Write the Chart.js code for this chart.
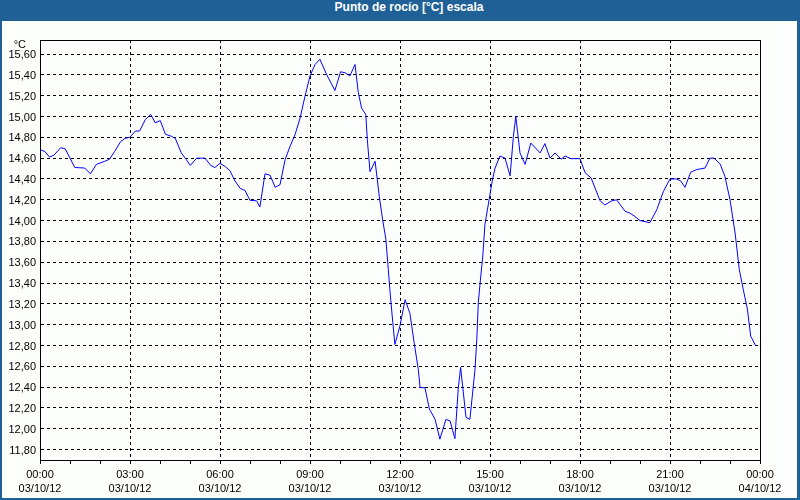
<!DOCTYPE html>
<html>
<head>
<meta charset="utf-8">
<script src="https://cdn.jsdelivr.net/npm/chart.js@4"></script>
<style>
  html, body { margin: 0; padding: 0; background: #fff; }
  #frame { position: relative; width: 800px; height: 500px; background: #1f6197; overflow: hidden; }
  #title { position: absolute; left: 0; top: 0; width: 800px; height: 21px; line-height: 20px;
           box-sizing: border-box; padding-left: 18px; text-align: center; color: #fff;
           font: bold 12px "Liberation Sans", Arial, sans-serif; }
  #plotbox { position: absolute; left: 2px; top: 21px; width: 795px; height: 477px; background: #fcfefc; }
</style>
</head>
<body>
<div id="frame">
  <div id="title">Punto de rocío [°C] escala</div>
  <div id="plotbox"><canvas id="c"></canvas></div>
</div>
<script>
// ---- data ----
const chartTitle = 'Punto de rocío [°C] escala';
const unitLabel = '°C';
// time of each sample, hours after 03/10/12 00:00
const hours = [0.00,0.16,0.32,0.47,0.69,0.84,1.16,1.49,1.68,1.88,
  2.16,2.32,2.49,2.69,2.84,2.99,3.18,3.32,3.51,3.69,
  3.84,4.01,4.18,4.38,4.51,4.71,4.88,5.01,5.22,5.50,
  5.69,5.83,6.00,6.17,6.33,6.50,6.67,6.83,7.00,7.22,
  7.33,7.50,7.67,7.84,8.00,8.17,8.33,8.50,8.67,8.83,
  9.00,9.17,9.33,9.56,9.83,10.02,10.17,10.33,10.50,10.61,
  10.72,10.86,10.91,11.00,11.17,11.31,11.42,11.53,11.61,11.67,
  11.76,11.83,12.00,12.17,12.33,12.47,12.61,12.67,12.83,12.98,
  13.17,13.33,13.53,13.67,13.83,13.94,14.02,14.20,14.33,14.50,
  14.56,14.61,14.67,14.76,14.83,14.97,15.08,15.17,15.33,15.50,
  15.67,15.78,15.86,16.00,16.17,16.36,16.67,16.83,17.00,17.17,
  17.37,17.50,17.70,18.00,18.17,18.37,18.67,18.83,19.06,19.22,
  19.50,19.67,19.83,20.00,20.33,20.56,20.78,21.00,21.22,21.36,
  21.50,21.69,21.89,22.17,22.33,22.47,22.67,22.83,23.00,23.17,
  23.31,23.44,23.58,23.69,23.86];
// dew point, °C
const dewPoint = [14.68,14.665,14.61,14.63,14.70,14.69,14.51,14.505,14.45,14.54,
  14.57,14.59,14.665,14.76,14.79,14.80,14.86,14.86,14.97,15.02,
  14.94,14.96,14.83,14.81,14.79,14.65,14.585,14.53,14.60,14.60,
  14.53,14.51,14.55,14.52,14.48,14.38,14.31,14.29,14.195,14.19,
  14.13,14.45,14.435,14.32,14.345,14.585,14.71,14.825,14.985,15.19,
  15.39,15.50,15.55,15.40,15.25,15.43,15.42,15.39,15.50,15.23,
  15.08,15.02,14.78,14.47,14.57,14.23,14.01,13.82,13.53,13.31,
  13.02,12.81,12.99,13.24,13.11,12.83,12.57,12.395,12.395,12.19,
  12.09,11.90,12.09,12.075,11.905,12.38,12.59,12.11,12.09,12.57,
  12.86,13.21,13.40,13.66,13.96,14.20,14.39,14.505,14.62,14.60,
  14.43,14.81,15.00,14.65,14.54,14.745,14.65,14.74,14.60,14.65,
  14.59,14.62,14.595,14.595,14.46,14.41,14.19,14.15,14.19,14.20,
  14.09,14.07,14.04,14.00,13.98,14.105,14.28,14.40,14.40,14.38,
  14.32,14.465,14.49,14.505,14.60,14.60,14.545,14.425,14.20,13.88,
  13.53,13.34,13.15,12.89,12.795];
// axis ticks
const yTicks = [11.8,12.0,12.2,12.4,12.6,12.8,13.0,13.2,13.4,13.6,13.8,14.0,14.2,14.4,14.6,14.8,15.0,15.2,15.4,15.6];
const yMin = 11.70, yMax = 15.735;
const xMinorTicks = [0,1,2,3,4,5,6,7,8,9,10,11,12,13,14,15,16,17,18,19,20,21,22,23,24];
const xLabelHours = [0,3,6,9,12,15,18,21,24];
const xLabelTimes = ['00:00','03:00','06:00','09:00','12:00','15:00','18:00','21:00','00:00'];
const xLabelDates = ['03/10/12','03/10/12','03/10/12','03/10/12','03/10/12','03/10/12','03/10/12','03/10/12','04/10/12'];

document.getElementById('title').textContent = chartTitle;

const FONT = "'Liberation Sans', Arial, sans-serif";
const DASH = [3, 3];

const frameBox = {
  id: 'frameBox',
  afterDraw(chart) {
    const {ctx, chartArea: a} = chart;
    ctx.save();
    ctx.strokeStyle = '#000';
    ctx.lineWidth = 1;
    ctx.setLineDash([]);
    ctx.strokeRect(Math.round(a.left) + 0.5, Math.round(a.top) + 0.5,
                   Math.round(a.right - a.left), Math.round(a.bottom - a.top));
    ctx.fillStyle = '#000';
    ctx.font = '11px ' + FONT;
    ctx.textAlign = 'right';
    ctx.textBaseline = 'middle';
    ctx.fillText(unitLabel, a.left - 14, a.top + 5);
    ctx.restore();
  }
};

new Chart(document.getElementById('c'), {
  type: 'line',
  data: {
    datasets: [{
      data: hours.map((h, i) => ({x: h, y: dewPoint[i]})),
      borderColor: '#0000ff',
      borderWidth: 1,
      pointRadius: 0,
      tension: 0,
      fill: false
    }]
  },
  options: {
    responsive: true,
    maintainAspectRatio: false,
    animation: false,
    layout: { padding: { top: 19, right: 37, left: 0, bottom: 0 } },
    plugins: { legend: { display: false }, title: { display: false }, tooltip: { enabled: false } },
    scales: {
      x: {
        type: 'linear',
        min: 0, max: 24,
        afterBuildTicks: s => { s.ticks = xMinorTicks.map(v => ({value: v})); },
        afterFit: s => { s.height = 38; },
        grid: {
          color: c => (c.tick && xLabelHours.includes(c.tick.value)) ? '#000' : 'rgba(0,0,0,0)',
          lineWidth: 1,
          tickColor: '#000',
          tickLength: 4,
          tickWidth: 1,
          tickBorderDash: []
        },
        border: { display: true, color: '#000', width: 1, dash: DASH },
        ticks: {
          autoSkip: false,
          maxRotation: 0,
          minRotation: 0,
          padding: 4,
          color: '#000',
          font: { family: FONT, size: 11, lineHeight: 1.27 },
          callback: v => {
            const i = xLabelHours.indexOf(v);
            return i < 0 ? '' : [xLabelTimes[i], xLabelDates[i]];
          }
        }
      },
      y: {
        type: 'linear',
        min: yMin, max: yMax,
        afterBuildTicks: s => { s.ticks = yTicks.map(v => ({value: v})); },
        afterFit: s => { s.width = 38; },
        grid: { color: '#000', lineWidth: 1, drawTicks: false },
        border: { display: true, color: '#000', width: 1, dash: DASH },
        ticks: {
          padding: 4,
          labelOffset: 1,
          color: '#000',
          font: { family: FONT, size: 11 },
          callback: v => Number(v).toFixed(2).replace('.', ',')
        }
      }
    }
  },
  plugins: [frameBox]
});
</script>
</body>
</html>
